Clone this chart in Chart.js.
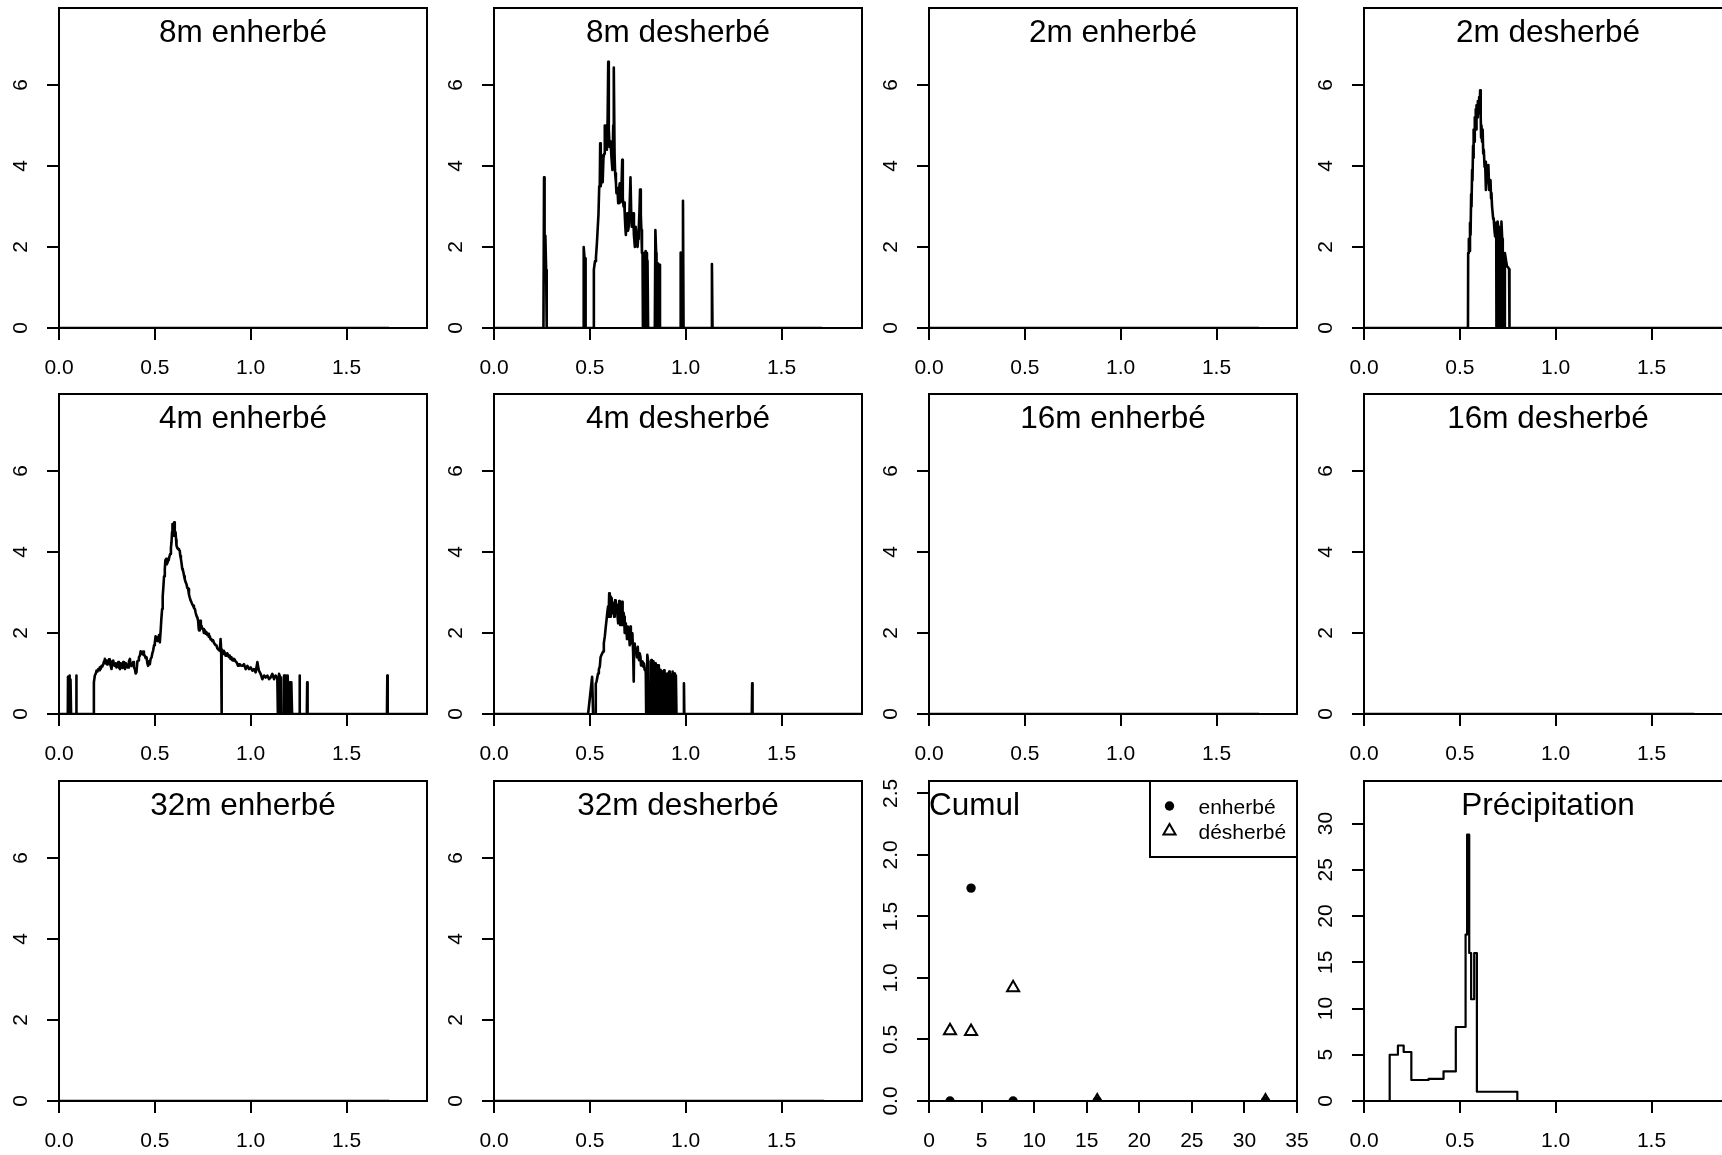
<!DOCTYPE html>
<html>
<head>
<meta charset="utf-8">
<script src="https://cdn.jsdelivr.net/npm/chart.js@4.4.1/dist/chart.umd.min.js"></script>
<style>
  html, body { margin: 0; padding: 0; background: #fff; overflow: hidden; }
  body { width: 1722px; height: 1155px; position: relative; }
  canvas { position: absolute; }
</style>
</head>
<body>
<script>
// panel titles, row by row
const titles = ['8m enherbé', '8m desherbé', '2m enherbé', '2m desherbé',
                '4m enherbé', '4m desherbé', '16m enherbé', '16m desherbé',
                '32m enherbé', '32m desherbé', 'Cumul', 'Précipitation'];

// tick values
const xTicks = [0, 0.5, 1.0, 1.5];
const yTicks = [0, 2, 4, 6];
const cumulXTicks = [0, 5, 10, 15, 20, 25, 30, 35];
const cumulYTicks = [0, 0.5, 1.0, 1.5, 2.0, 2.5];
const precipYTicks = [0, 5, 10, 15, 20, 25, 30];

// empty panels: flat line at zero
const zeroX = [0, 1.72];
const zeroY = [0, 0];

// 8m desherbé
const des8X = [0, 0.258, 0.261, 0.264, 0.268, 0.272, 0.275, 0.465, 0.468, 0.472,
  0.476, 0.478, 0.519, 0.521, 0.527, 0.532, 0.537, 0.541, 0.545, 0.549,
  0.552, 0.554, 0.557, 0.561, 0.564, 0.567, 0.571, 0.575, 0.578, 0.582,
  0.585, 0.589, 0.593, 0.596, 0.599, 0.603, 0.606, 0.609, 0.613, 0.618,
  0.622, 0.625, 0.629, 0.632, 0.636, 0.639, 0.644, 0.648, 0.652, 0.656,
  0.660, 0.664, 0.669, 0.672, 0.676, 0.679, 0.682, 0.685, 0.688, 0.691,
  0.695, 0.699, 0.703, 0.707, 0.712, 0.716, 0.719, 0.722, 0.726, 0.730,
  0.735, 0.739, 0.743, 0.746, 0.749, 0.752, 0.755, 0.759, 0.762, 0.766,
  0.769, 0.772, 0.775, 0.777, 0.780, 0.782, 0.785, 0.789, 0.791, 0.795,
  0.798, 0.801, 0.804, 0.839, 0.842, 0.846, 0.848, 0.852, 0.855, 0.860,
  0.863, 0.866, 0.971, 0.974, 0.977, 0.983, 0.986, 0.989, 1.134, 1.137,
  1.140, 1.710];
const des8Y = [0, 0, 3.72, 2.3, 2.28, 1.43, 0, 0, 2.0, 1.75,
  1.72, 0, 0, 1.44, 1.65, 1.75, 2.1, 2.45, 2.8, 3.5,
  3.57, 4.56, 3.5, 3.7, 4.25, 3.6, 4.2, 4.3, 5.0, 4.6,
  5.0, 4.4, 5.2, 6.57, 4.9, 4.47, 4.6, 4.55, 4.2, 3.9,
  5.0, 6.43, 4.3, 3.82, 3.6, 3.33, 3.45, 3.08, 3.4, 3.57,
  3.1, 3.3, 4.15, 3.2, 3.0, 3.1, 2.83, 2.5, 2.3, 2.6,
  2.83, 2.4, 2.5, 2.9, 3.72, 2.8, 2.5, 2.7, 2.83, 2.3,
  2.0, 2.5, 2.3, 2.1, 2.0, 2.2, 2.42, 2.9, 3.42, 2.8,
  2.42, 1.85, 1.85, 0, 0, 1.85, 0, 0, 1.9, 1.85,
  1.7, 1.65, 0, 0, 2.42, 1.85, 0, 0, 1.6, 1.56,
  1.56, 0, 0, 1.86, 0, 0, 3.14, 0, 0, 1.58,
  0, 0];

// 2m desherbé
const des2X = [0, 0.5425, 0.5435, 0.547, 0.549, 0.553, 0.556, 0.559, 0.561, 0.564,
  0.566, 0.569, 0.571, 0.573, 0.576, 0.578, 0.580, 0.583, 0.585, 0.587,
  0.590, 0.594, 0.597, 0.601, 0.604, 0.606, 0.609, 0.611, 0.613, 0.616,
  0.619, 0.622, 0.625, 0.629, 0.632, 0.636, 0.639, 0.643, 0.646, 0.649,
  0.653, 0.656, 0.660, 0.663, 0.665, 0.668, 0.670, 0.674, 0.677, 0.681,
  0.684, 0.688, 0.690, 0.691, 0.696, 0.697, 0.700, 0.704, 0.708, 0.709,
  0.716, 0.717, 0.721, 0.724, 0.727, 0.728, 0.734, 0.735, 0.740, 0.746,
  0.752, 0.757, 0.759, 1.900];
const des2Y = [0, 0, 1.85, 2.2, 1.9, 2.6, 2.3, 3.3, 3.0, 3.9,
  3.65, 4.5, 4.2, 4.9, 4.6, 5.2, 5.0, 5.4, 4.9, 5.5,
  5.2, 5.6, 5.3, 5.7, 5.5, 5.87, 5.2, 4.7, 5.0, 4.6,
  4.9, 4.31, 4.4, 3.98, 4.1, 3.41, 3.7, 3.8, 3.6, 4.02,
  3.41, 3.6, 3.65, 3.2, 3.33, 3.0, 3.0, 2.7, 2.67, 2.4,
  2.26, 2.6, 2.3, 0, 0, 2.63, 2.5, 2.18, 1.9, 0,
  0, 2.63, 2.2, 1.64, 1.6, 0, 0, 1.85, 1.7, 1.52,
  1.5, 1.45, 0, 0];

// 4m enherbé
const enh4X = [0, 0.046, 0.047, 0.050, 0.053, 0.054, 0.057, 0.059, 0.060, 0.063,
  0.089, 0.090, 0.092, 0.181, 0.182, 0.187, 0.192, 0.196, 0.201, 0.205,
  0.209, 0.213, 0.218, 0.222, 0.226, 0.231, 0.235, 0.239, 0.244, 0.248,
  0.252, 0.257, 0.261, 0.265, 0.270, 0.274, 0.278, 0.283, 0.287, 0.291,
  0.296, 0.300, 0.304, 0.309, 0.313, 0.318, 0.322, 0.326, 0.331, 0.335,
  0.339, 0.344, 0.348, 0.352, 0.357, 0.361, 0.365, 0.370, 0.374, 0.378,
  0.383, 0.387, 0.391, 0.396, 0.400, 0.404, 0.409, 0.413, 0.417, 0.422,
  0.426, 0.430, 0.435, 0.439, 0.443, 0.448, 0.452, 0.457, 0.461, 0.465,
  0.470, 0.474, 0.478, 0.483, 0.487, 0.491, 0.496, 0.500, 0.504, 0.509,
  0.513, 0.517, 0.522, 0.526, 0.531, 0.534, 0.538, 0.541, 0.545, 0.548,
  0.552, 0.555, 0.559, 0.563, 0.566, 0.570, 0.573, 0.577, 0.580, 0.584,
  0.587, 0.590, 0.592, 0.595, 0.597, 0.599, 0.601, 0.604, 0.608, 0.611,
  0.613, 0.617, 0.622, 0.626, 0.630, 0.633, 0.636, 0.640, 0.643, 0.646,
  0.649, 0.653, 0.656, 0.661, 0.665, 0.669, 0.674, 0.678, 0.682, 0.687,
  0.691, 0.696, 0.700, 0.704, 0.709, 0.713, 0.717, 0.722, 0.726, 0.729,
  0.731, 0.734, 0.736, 0.740, 0.743, 0.748, 0.752, 0.756, 0.761, 0.765,
  0.769, 0.774, 0.778, 0.782, 0.787, 0.791, 0.795, 0.800, 0.804, 0.809,
  0.813, 0.817, 0.822, 0.826, 0.830, 0.835, 0.839, 0.843, 0.846, 0.847,
  0.849, 0.850, 0.856, 0.860, 0.865, 0.869, 0.874, 0.878, 0.882, 0.887,
  0.891, 0.895, 0.900, 0.904, 0.908, 0.913, 0.917, 0.921, 0.926, 0.930,
  0.934, 0.939, 0.943, 0.948, 0.957, 0.965, 0.974, 0.983, 0.991, 1.000,
  1.009, 1.017, 1.026, 1.035, 1.043, 1.052, 1.061, 1.070, 1.078, 1.087,
  1.096, 1.104, 1.113, 1.122, 1.130, 1.139, 1.142, 1.146, 1.148, 1.155,
  1.158, 1.172, 1.174, 1.178, 1.182, 1.183, 1.187, 1.191, 1.193, 1.197,
  1.203, 1.205, 1.212, 1.216, 1.253, 1.255, 1.257, 1.293, 1.295, 1.297,
  1.711, 1.713, 1.715, 1.920];
const enh4Y = [0, 0, 0.92, 0, 0, 0.95, 0, 0, 0.85, 0,
  0, 0.95, 0, 0, 0.78, 0.95, 1.0, 1.07, 1.05, 1.11,
  1.08, 1.15, 1.12, 1.19, 1.17, 1.23, 1.3, 1.36, 1.25, 1.32,
  1.22, 1.23, 1.35, 1.28, 1.18, 1.11, 1.3, 1.32, 1.2, 1.19,
  1.25, 1.15, 1.22, 1.28, 1.15, 1.11, 1.25, 1.19, 1.14, 1.28,
  1.2, 1.11, 1.26, 1.23, 1.15, 1.15, 1.3, 1.36, 1.2, 1.19,
  1.22, 1.28, 1.15, 1.11, 1.0, 1.03, 1.3, 1.32, 1.4, 1.44,
  1.55, 1.52, 1.48, 1.54, 1.45, 1.44, 1.38, 1.4, 1.25, 1.19,
  1.3, 1.23, 1.36, 1.4, 1.5, 1.56, 1.7, 1.77, 1.92, 1.89,
  1.8, 1.85, 1.95, 1.77, 2.1, 2.35, 2.59, 2.9, 3.17, 3.4,
  3.58, 3.8, 3.83, 3.7, 3.74, 3.8, 3.83, 3.9, 3.95, 4.1,
  4.24, 4.5, 4.69, 4.4, 4.49, 4.6, 4.73, 4.5, 4.49, 4.3,
  4.16, 4.1, 4.07, 4.05, 4.03, 3.9, 3.83, 3.7, 3.58, 3.55,
  3.5, 3.4, 3.33, 3.25, 3.21, 3.12, 3.09, 2.95, 2.88, 2.8,
  2.76, 2.7, 2.67, 2.62, 2.59, 2.5, 2.43, 2.38, 2.3, 2.1,
  2.06, 2.2, 2.3, 2.15, 2.18, 2.1, 2.1, 2.0, 2.06, 1.98,
  2.02, 1.95, 1.98, 1.9, 1.92, 1.84, 1.85, 1.8, 1.82, 1.75,
  1.75, 1.7, 1.69, 1.62, 1.6, 1.58, 1.56, 1.85, 1.6, 0,
  0, 1.55, 1.56, 1.48, 1.52, 1.44, 1.44, 1.5, 1.46, 1.4,
  1.44, 1.36, 1.4, 1.33, 1.32, 1.36, 1.34, 1.3, 1.28, 1.24,
  1.19, 1.23, 1.23, 1.2, 1.19, 1.23, 1.11, 1.19, 1.11, 1.15,
  1.07, 1.11, 1.03, 1.28, 1.07, 0.99, 0.86, 0.95, 0.9, 0.95,
  0.86, 0.9, 0.99, 0.86, 0.95, 0.9, 0, 0, 0.99, 0.9,
  0, 0, 0.95, 0, 0, 0.95, 0, 0, 0.95, 0,
  0, 0.78, 0.78, 0, 0, 0.95, 0, 0, 0.78, 0,
  0, 0.95, 0, 0];

// 4m desherbé
const des4X = [0, 0.491, 0.512, 0.517, 0.529, 0.531, 0.535, 0.539, 0.543, 0.547,
  0.552, 0.556, 0.561, 0.565, 0.569, 0.573, 0.578, 0.582, 0.587, 0.591,
  0.595, 0.598, 0.601, 0.604, 0.606, 0.609, 0.611, 0.614, 0.616, 0.619,
  0.622, 0.625, 0.627, 0.630, 0.632, 0.635, 0.637, 0.640, 0.642, 0.645,
  0.648, 0.650, 0.653, 0.656, 0.658, 0.661, 0.663, 0.666, 0.668, 0.671,
  0.674, 0.676, 0.679, 0.682, 0.684, 0.688, 0.691, 0.694, 0.698, 0.701,
  0.705, 0.708, 0.712, 0.714, 0.717, 0.720, 0.722, 0.726, 0.729, 0.731,
  0.734, 0.738, 0.743, 0.746, 0.750, 0.753, 0.757, 0.760, 0.764, 0.767,
  0.771, 0.775, 0.778, 0.782, 0.786, 0.790, 0.792, 0.794, 0.798, 0.800,
  0.804, 0.806, 0.818, 0.821, 0.824, 0.826, 0.830, 0.832, 0.835, 0.839,
  0.841, 0.844, 0.848, 0.851, 0.854, 0.858, 0.860, 0.863, 0.867, 0.869,
  0.872, 0.876, 0.878, 0.881, 0.885, 0.887, 0.890, 0.894, 0.896, 0.899,
  0.903, 0.905, 0.908, 0.912, 0.914, 0.917, 0.921, 0.923, 0.926, 0.930,
  0.932, 0.935, 0.939, 0.941, 0.944, 0.947, 0.949, 0.952, 0.989, 0.991,
  0.993, 1.345, 1.347, 1.349, 1.920];
const des4Y = [0, 0, 0.92, 0, 0, 0.75, 0.8, 0.9, 1.0, 1.1,
  1.17, 1.4, 1.46, 1.5, 1.54, 1.75, 1.91, 2.1, 2.32, 2.5,
  2.65, 2.4, 2.98, 2.6, 2.4, 2.9, 2.86, 2.55, 2.49, 2.75,
  2.69, 2.5, 2.4, 2.7, 2.81, 2.6, 2.49, 2.7, 2.61, 2.4,
  2.24, 2.5, 2.79, 2.3, 2.2, 2.5, 2.61, 2.3, 2.77, 2.2,
  2.24, 2.5, 2.4, 2.0, 2.24, 2.0, 2.07, 1.85, 2.16, 1.9,
  1.95, 1.7, 2.16, 1.8, 1.74, 1.9, 1.99, 1.5, 0.8, 1.6,
  1.74, 1.5, 1.54, 1.4, 1.66, 1.4, 1.33, 1.5, 1.42, 1.2,
  1.25, 1.3, 1.17, 1.25, 1.09, 1.1, 1.0, 0, 0, 1.46,
  1.3, 0, 0, 1.33, 1.3, 0, 0, 1.3, 0, 0,
  1.25, 0, 0, 1.2, 0, 0, 1.2, 0, 0, 1.09,
  0, 0, 1.05, 0, 0, 1.08, 0, 0, 1.0, 0,
  0, 1.0, 0, 0, 1.05, 0, 0, 0.98, 0, 0,
  1.05, 0, 0, 1.0, 0, 0, 0.95, 0, 0, 0.76,
  0, 0, 0.76, 0, 0];

// Cumul
const cumulDist = [2, 4, 8, 16, 32];
const cumulEnh = [0, 1.73, 0, 0, 0];
const cumulDes = [0.57, 0.565, 0.92, 0, 0];
const cumulLabels = ['enherbé', 'désherbé'];

// Précipitation (step plot)
const precipX = [0, 0.134, 0.177, 0.207, 0.247, 0.337, 0.415, 0.479, 0.530, 0.538, 0.549, 0.559, 0.575, 0.589, 0.800, 1.920];
const precipY = [0, 5.0, 6.0, 5.3, 2.27, 2.4, 3.2, 8.0, 18.0, 28.8, 16.0, 11.0, 16.0, 1.0, 0, 0];

const panelSeries = [
  [zeroX, zeroY], [des8X, des8Y], [zeroX, zeroY], [des2X, des2Y],
  [enh4X, enh4Y], [des4X, des4Y], [zeroX, zeroY], [zeroX, zeroY],
  [zeroX, zeroY], [zeroX, zeroY]
];

const FONT = '"Liberation Sans", Arial, Helvetica, sans-serif';
Chart.defaults.font.family = FONT;
Chart.defaults.color = '#000';

const colLeft = [-1, 434, 869, 1304];
const rowTop = [-2, 384, 771];

function labelWidth(labels) {
  const c = document.createElement('canvas').getContext('2d');
  c.font = '21px ' + FONT;
  return Math.max(...labels.map(t => c.measureText(t).width));
}

function makeScale(axis, min, max, ticks, fmt) {
  const isY = axis === 'y';
  return {
    type: 'linear', min: min, max: max,
    border: { display: false },
    grid: { drawOnChartArea: false, drawTicks: true, tickLength: 12, color: '#000', lineWidth: 2 },
    ticks: {
      autoSkip: false,
      color: '#000',
      font: { size: 21 },
      minRotation: isY ? 90 : 0,
      maxRotation: isY ? 90 : 0,
      crossAlign: isY ? 'center' : 'near',
      padding: isY ? 26 - labelWidth(ticks.map(fmt)) / 2 : 16,
      callback: v => fmt(v)
    },
    afterBuildTicks: s => { s.ticks = ticks.map(v => ({ value: v })); },
    afterFit: s => {
      if (isY) { s.width = 60; s.paddingTop = 0; s.paddingBottom = 0; }
      else { s.height = 56; s.paddingLeft = 0; s.paddingRight = 0; }
    }
  };
}

// frame around the plot region + title inside it
const panelFrame = {
  id: 'panelFrame',
  afterDraw(chart, args, opts) {
    const { ctx, chartArea: a } = chart;
    ctx.save();
    ctx.strokeStyle = '#000';
    ctx.lineWidth = 2;
    ctx.strokeRect(a.left, a.top, a.right - a.left, a.bottom - a.top);
    ctx.fillStyle = '#000';
    ctx.font = '31.5px ' + FONT;
    ctx.textBaseline = 'alphabetic';
    if (opts.align === 'left') {
      ctx.textAlign = 'left';
      ctx.fillText(opts.text, a.left, a.top + 33.5);
    } else {
      ctx.textAlign = 'center';
      ctx.fillText(opts.text, (a.left + a.right) / 2, a.top + 33.5);
    }
    ctx.restore();
  }
};

// boxed legend in the top right corner (Cumul)
const boxLegend = {
  id: 'boxLegend',
  afterDraw(chart) {
    const { ctx, chartArea: a } = chart;
    const w = 147, h = 76, left = a.right - w, top = a.top;
    ctx.save();
    ctx.fillStyle = '#fff';
    ctx.fillRect(left, top, w, h);
    ctx.strokeStyle = '#000';
    ctx.lineWidth = 2;
    ctx.strokeRect(left, top, w, h);
    chart.data.datasets.forEach((ds, i) => {
      const cx = left + 19.5, cy = top + 25 + i * 25;
      ctx.beginPath();
      if (ds.pointStyle === 'triangle') {
        const r = ds.pointRadius;
        ctx.moveTo(cx, cy - r);
        ctx.lineTo(cx + r * Math.sin(2 * Math.PI / 3), cy + r / 2);
        ctx.lineTo(cx - r * Math.sin(2 * Math.PI / 3), cy + r / 2);
        ctx.closePath();
        ctx.lineWidth = ds.pointBorderWidth;
        ctx.stroke();
      } else {
        ctx.arc(cx, cy, ds.pointRadius, 0, Math.PI * 2);
        ctx.fillStyle = '#000';
        ctx.fill();
      }
      ctx.fillStyle = '#000';
      ctx.font = '21px ' + FONT;
      ctx.textAlign = 'left';
      ctx.textBaseline = 'alphabetic';
      ctx.fillText(ds.label, left + 48.5, top + 33.3 + i * 25);
    });
    ctx.restore();
  }
};

function addCanvas(idx) {
  const c = document.createElement('canvas');
  c.width = 450;
  c.height = 386;
  c.style.width = '450px';
  c.style.height = '386px';
  c.style.left = colLeft[idx % 4] + 'px';
  c.style.top = rowTop[Math.floor(idx / 4)] + 'px';
  document.body.appendChild(c);
  return c;
}

function baseOptions(title, align, scales) {
  return {
    responsive: false,
    animation: false,
    devicePixelRatio: 1,
    events: [],
    layout: { padding: { top: 10, right: 22, left: 0, bottom: 0 } },
    scales: scales,
    plugins: {
      legend: { display: false },
      tooltip: { enabled: false },
      panelFrame: { text: title, align: align }
    }
  };
}

function linePanel(idx, xs, ys, yScale, stepped, width) {
  new Chart(addCanvas(idx), {
    type: 'line',
    data: {
      datasets: [{
        data: xs.map((x, i) => ({ x: x, y: ys[i] })),
        borderColor: '#000',
        borderWidth: width,
        borderJoinStyle: 'round',
        borderCapStyle: 'round',
        pointRadius: 0,
        tension: 0,
        fill: false,
        stepped: stepped
      }]
    },
    options: baseOptions(titles[idx], 'center', {
      x: makeScale('x', 0, 1.92, xTicks, v => v.toFixed(1)),
      y: yScale
    }),
    plugins: [panelFrame]
  });
}

panelSeries.forEach((s, i) => {
  linePanel(i, s[0], s[1], makeScale('y', 0, 7.9, yTicks, v => String(v)), false, 2.6);
});

// Cumul
new Chart(addCanvas(10), {
  type: 'scatter',
  data: {
    datasets: [{
      label: cumulLabels[0],
      data: cumulDist.map((x, i) => ({ x: x, y: cumulEnh[i] })),
      pointStyle: 'circle',
      pointRadius: 4.7,
      pointBackgroundColor: '#000',
      pointBorderColor: '#000',
      pointBorderWidth: 0,
      showLine: false,
      clip: 0
    }, {
      label: cumulLabels[1],
      data: cumulDist.map((x, i) => ({ x: x, y: cumulDes[i] })),
      pointStyle: 'triangle',
      pointRadius: 7,
      pointBackgroundColor: 'rgba(0,0,0,0)',
      pointBorderColor: '#000',
      pointBorderWidth: 2,
      showLine: false,
      clip: 0
    }]
  },
  options: baseOptions(titles[10], 'left', {
    x: makeScale('x', 0, 35, cumulXTicks, v => String(v)),
    y: makeScale('y', 0, 2.6, cumulYTicks, v => v.toFixed(1))
  }),
  plugins: [panelFrame, boxLegend]
});

// Précipitation
linePanel(11, precipX, precipY, makeScale('y', 0, 34.6, precipYTicks, v => String(v)), true, 2.2);
</script>
</body>
</html>
